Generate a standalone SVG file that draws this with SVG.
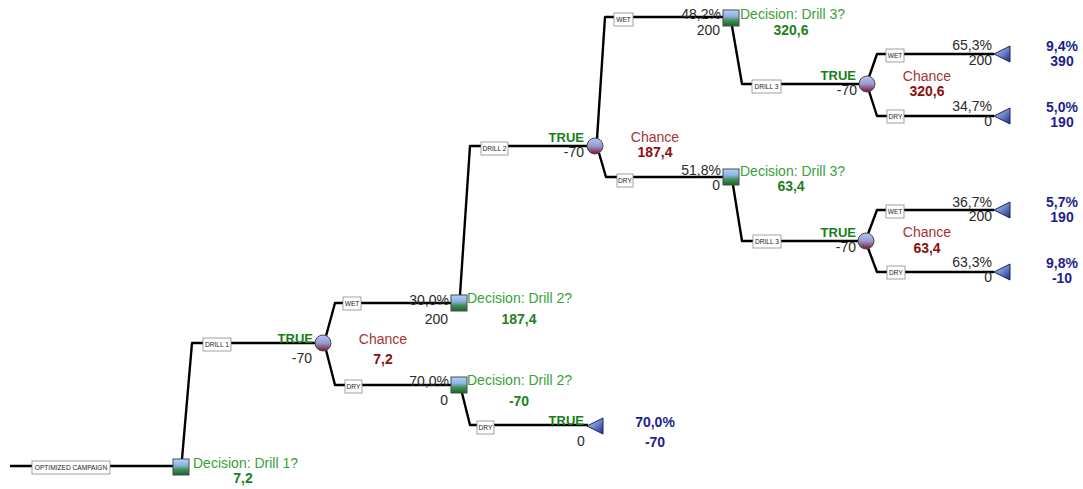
<svg xmlns="http://www.w3.org/2000/svg" width="1083" height="489" viewBox="0 0 1083 489">
<style>
text{font-family:"Liberation Sans",Arial,sans-serif;font-size:14px}
.num{fill:#2a2a2a}
.end{text-anchor:end}
.mid{text-anchor:middle}
.dec{fill:#3aa03a}
.decv{fill:#1f7f1f;font-weight:bold}
.tru{fill:#168016;font-weight:bold;font-size:13px;text-anchor:end}
.ch{fill:#a33434;text-anchor:middle}
.chv{fill:#8b1010;font-weight:bold;text-anchor:middle}
.term{fill:#1e1e8e;font-weight:bold;text-anchor:middle}
.lbl rect{fill:#fff;stroke:#8a8a8a;stroke-width:0.8}
.lbl text{font-size:6.6px;fill:#222;text-anchor:middle}
.conn path{fill:none;stroke:#000;stroke-width:2.4;stroke-linejoin:round}
.sq{fill:url(#gSq);stroke:#4a4a4a;stroke-width:1}
.ci{fill:url(#gCi);stroke:#4a4a4a;stroke-width:1}
.tri{fill:url(#gTri);stroke:#1a2266;stroke-width:1}
</style>
<defs>
<linearGradient id="gSq" x1="0" y1="0" x2="0" y2="1">
<stop offset="0" stop-color="#b4d2fa"/>
<stop offset="0.4" stop-color="#8cb2e0"/>
<stop offset="0.65" stop-color="#44905a"/>
<stop offset="1" stop-color="#1a6626"/>
</linearGradient>
<linearGradient id="gCi" x1="0" y1="0" x2="0" y2="1">
<stop offset="0" stop-color="#b4c4f6"/>
<stop offset="0.5" stop-color="#9a9ad0"/>
<stop offset="1" stop-color="#7a1230"/>
</linearGradient>
<linearGradient id="gTri" x1="0" y1="0" x2="1" y2="1">
<stop offset="0" stop-color="#b8ccf4"/>
<stop offset="0.5" stop-color="#6f88cc"/>
<stop offset="1" stop-color="#1a2a84"/>
</linearGradient>
</defs>
<rect width="1083" height="489" fill="#fff"/>

<g id="connectors" class="conn">
<path d="M10,466 H174"/>
<path d="M182,459 L192,343 H315"/>
<path d="M326,336 L335,303 H451"/>
<path d="M326,350 L335,385 H451"/>
<path d="M460,295 L470,146 H587"/>
<path d="M462,393 L470,425 H588"/>
<path d="M597,139 L605,17 H723"/>
<path d="M599,153 L606,177 H723"/>
<path d="M732,26 L742,84 H859"/>
<path d="M733,185 L742,241 H858"/>
<path d="M869,77 L877,54 H994"/>
<path d="M869,91 L877,116 H994"/>
<path d="M868,234 L877,210 H994"/>
<path d="M868,248 L877,272 H994"/>
</g>

<g id="branch-labels" class="lbl">
<rect x="32" y="461" width="78" height="13"/><text x="71" y="470">OPTIMIZED CAMPAIGN</text>
<rect x="203" y="338" width="28" height="13"/><text x="217" y="347">DRILL 1</text>
<rect x="343" y="297" width="18" height="13"/><text x="352" y="306">WET</text>
<rect x="345" y="380" width="17" height="13"/><text x="353.5" y="389">DRY</text>
<rect x="477" y="421" width="17" height="13"/><text x="485.5" y="430">DRY</text>
<rect x="481" y="142" width="27" height="13"/><text x="494.5" y="151">DRILL 2</text>
<rect x="614" y="13" width="19" height="13"/><text x="623.5" y="22">WET</text>
<rect x="617" y="174" width="16" height="13"/><text x="625" y="183">DRY</text>
<rect x="752" y="80" width="29" height="13"/><text x="766.5" y="89">DRILL 3</text>
<rect x="886" y="49" width="18" height="13"/><text x="895" y="58">WET</text>
<rect x="887" y="110" width="17" height="13"/><text x="895.5" y="119">DRY</text>
<rect x="753" y="235" width="28" height="13"/><text x="767" y="244">DRILL 3</text>
<rect x="886" y="205" width="18" height="13"/><text x="895" y="214">WET</text>
<rect x="887" y="266" width="18" height="13"/><text x="896" y="275">DRY</text>
</g>

<g id="decision-drill1">
<rect class="sq" x="173" y="459" width="16" height="16"/>
<text class="dec" x="193" y="468">Decision: Drill 1?</text>
<text class="decv mid" x="243" y="483">7,2</text>
</g>

<g id="chance-drill1">
<circle class="ci" cx="323" cy="343" r="8"/>
<text class="tru" x="313" y="343">TRUE</text>
<text class="num end" x="312" y="363">-70</text>
<text class="ch" x="383" y="344">Chance</text>
<text class="chv" x="383" y="364">7,2</text>
<text class="num end" x="449" y="305">30,0%</text>
<text class="num end" x="448" y="324">200</text>
<text class="num end" x="449" y="386">70,0%</text>
<text class="num end" x="448" y="405">0</text>
</g>

<g id="decision-drill2-wet">
<rect class="sq" x="451" y="295" width="16" height="16"/>
<text class="dec" x="467" y="303">Decision: Drill 2?</text>
<text class="decv mid" x="519" y="324">187,4</text>
</g>

<g id="decision-drill2-dry">
<rect class="sq" x="451" y="377" width="16" height="16"/>
<text class="dec" x="467" y="385">Decision: Drill 2?</text>
<text class="decv mid" x="519" y="406">-70</text>
</g>

<g id="end-no-drill2">
<polygon class="tri" points="587,426 603,418 603,434"/>
<text class="tru" x="584" y="425">TRUE</text>
<text class="num mid" x="581" y="446">0</text>
<text class="term" x="655" y="427">70,0%</text>
<text class="term" x="655" y="447">-70</text>
</g>

<g id="chance-drill2">
<circle class="ci" cx="595" cy="146" r="8"/>
<text class="tru" x="584" y="142">TRUE</text>
<text class="num end" x="584" y="157">-70</text>
<text class="ch" x="655" y="142">Chance</text>
<text class="chv" x="655" y="157">187,4</text>
<text class="num end" x="721" y="19">48,2%</text>
<text class="num end" x="720" y="35">200</text>
<text class="num end" x="721" y="175">51,8%</text>
<text class="num end" x="720" y="190">0</text>
</g>

<g id="decision-drill3-wet">
<rect class="sq" x="723" y="10" width="16" height="16"/>
<text class="dec" x="740" y="19">Decision: Drill 3?</text>
<text class="decv mid" x="791" y="35">320,6</text>
</g>

<g id="decision-drill3-dry">
<rect class="sq" x="723" y="169" width="16" height="16"/>
<text class="dec" x="740" y="176">Decision: Drill 3?</text>
<text class="decv mid" x="791" y="191">63,4</text>
</g>

<g id="chance-drill3-a">
<circle class="ci" cx="867" cy="84" r="8"/>
<text class="tru" x="856" y="80">TRUE</text>
<text class="num end" x="857" y="95">-70</text>
<text class="ch" x="927" y="81">Chance</text>
<text class="chv" x="927" y="96">320,6</text>
<text class="num end" x="992" y="50">65,3%</text>
<text class="num end" x="992" y="65">200</text>
<text class="num end" x="992" y="111">34,7%</text>
<text class="num end" x="992" y="126">0</text>
</g>

<g id="chance-drill3-b">
<circle class="ci" cx="866" cy="241" r="8"/>
<text class="tru" x="856" y="237">TRUE</text>
<text class="num end" x="856" y="252">-70</text>
<text class="ch" x="927" y="237">Chance</text>
<text class="chv" x="927" y="253">63,4</text>
<text class="num end" x="992" y="207">36,7%</text>
<text class="num end" x="992" y="221">200</text>
<text class="num end" x="992" y="267">63,3%</text>
<text class="num end" x="992" y="282">0</text>
</g>

<g id="end-a-wet">
<polygon class="tri" points="994,54 1010,46 1010,62"/>
<text class="term" x="1062" y="51">9,4%</text>
<text class="term" x="1062" y="66">390</text>
</g>
<g id="end-a-dry">
<polygon class="tri" points="994,116 1010,108 1010,124"/>
<text class="term" x="1062" y="112">5,0%</text>
<text class="term" x="1062" y="127">190</text>
</g>
<g id="end-b-wet">
<polygon class="tri" points="994,210 1010,202 1010,218"/>
<text class="term" x="1062" y="207">5,7%</text>
<text class="term" x="1062" y="222">190</text>
</g>
<g id="end-b-dry">
<polygon class="tri" points="994,272 1010,264 1010,280"/>
<text class="term" x="1062" y="268">9,8%</text>
<text class="term" x="1062" y="283">-10</text>
</g>
</svg>
